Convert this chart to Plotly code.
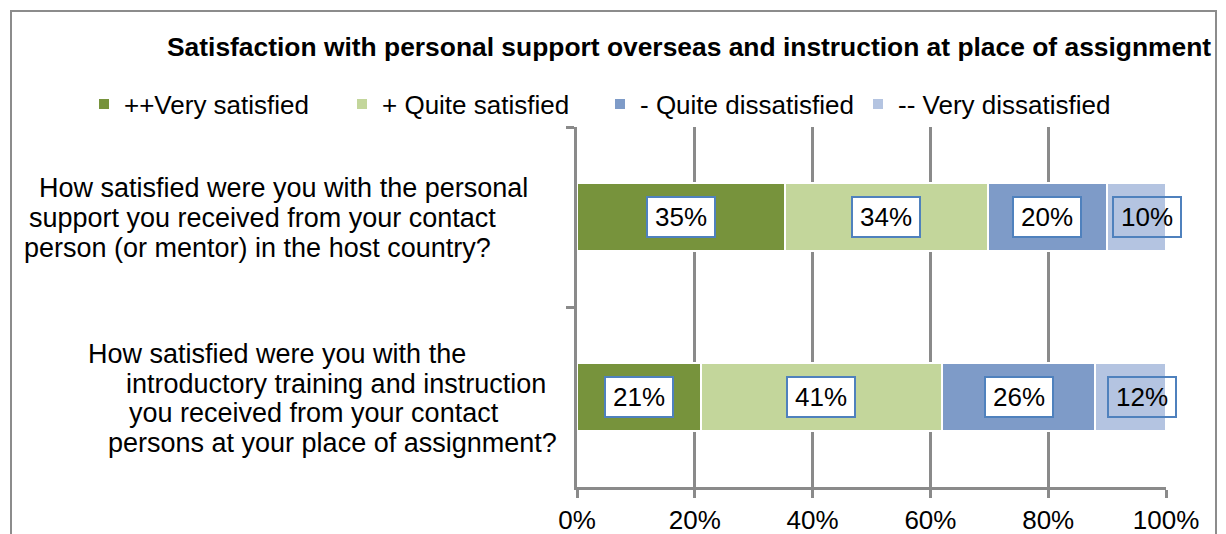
import plotly.graph_objects as go

# Survey responses (percent of respondents)
questions = ["personal support", "introductory training"]
series_names = ["++Very satisfied", "+ Quite satisfied", "- Quite dissatisfied", "-- Very dissatisfied"]
very_satisfied = [35, 21]
quite_satisfied = [34, 41]
quite_dissatisfied = [20, 26]
very_dissatisfied = [10, 12]
x_ticks = [0, 20, 40, 60, 80, 100]
x_tick_labels = ["0%", "20%", "40%", "60%", "80%", "100%"]

question_lines = [
    ["How satisfied were you with the personal",
     "support you received from your contact",
     "person (or mentor) in the host country?"],
    ["How satisfied were you with the",
     "introductory training and instruction",
     "you received from your contact",
     "persons at your place of assignment?"],
]

colors = ["#77933c", "#c3d69b", "#7e9bc8", "#b4c4e1"]
title_text = "Satisfaction with personal support overseas and instruction at place of assignment"

W, H = 1226, 534
L, R, T, B = 577, 60, 127, 47
PW, PH = W - L - R, H - T - B
FONT = "Liberation Sans, Arial, sans-serif"
GRID = "#8a8a8a"


def px_x(px):
    return (px - L) / PW


def px_y(py):
    return (H - B - py) / PH


series = [very_satisfied, quite_satisfied, quite_dissatisfied, very_dissatisfied]

fig = go.Figure()
for name, vals, col in zip(series_names, series, colors):
    fig.add_trace(go.Bar(
        y=questions, x=vals, name=name, orientation="h",
        marker=dict(color=col, line=dict(color="white", width=2)),
        hoverinfo="skip",
    ))

# Boxed value labels centred on each normalised segment
annotations = []
for qi, q in enumerate(questions):
    vals = [s[qi] for s in series]
    total = sum(vals)
    cum = 0.0
    for si, v in enumerate(vals):
        share = v / total * 100
        centre = cum + share / 2
        cum += share
        last = si == len(vals) - 1
        annotations.append(dict(
            x=centre, y=q, xref="x", yref="y", text=f"{v}%", showarrow=False,
            font=dict(family=FONT, size=26, color="black"),
            width=60, height=32,
            bgcolor="rgba(0,0,0,0)" if last else "white",
            bordercolor="#4f81bd", borderwidth=2, borderpad=3,
            xshift=11 if last else 0,
        ))

# Question texts, one line per annotation
line_pos = [
    [(37, 188), (27, 218), (22, 248)],
    [(86, 354), (124, 384), (127, 413), (106, 443)],
]
for lines, pos in zip(question_lines, line_pos):
    for txt, (lx, ly) in zip(lines, pos):
        annotations.append(dict(
            x=px_x(lx), y=px_y(ly), xref="paper", yref="paper", text=txt,
            showarrow=False, xanchor="left", yanchor="middle",
            font=dict(family=FONT, size=27, color="black"),
        ))

annotations.append(dict(
    x=px_x(689), y=px_y(47), xref="paper", yref="paper", text=f"<b>{title_text}</b>",
    showarrow=False, xanchor="center", yanchor="middle",
    font=dict(family=FONT, size=26.4, color="black"),
))

# Outer chart frame (open at the bottom)
frame = dict(type="path", xref="paper", yref="paper",
             path=f"M {px_x(11)},{px_y(560)} L {px_x(11)},{px_y(11)} "
                  f"L {px_x(1216)},{px_y(11)} L {px_x(1216)},{px_y(560)}",
             line=dict(color="#8c8c8c", width=2))

fig.update_layout(
    width=W, height=H,
    margin=dict(l=L, r=R, t=T, b=B, autoexpand=False),
    barmode="stack", barnorm="percent", bargap=0.62,
    plot_bgcolor="white", paper_bgcolor="white",
    font=dict(family=FONT, size=26, color="black"),
    showlegend=True,
    legend=dict(orientation="h", xref="paper", yref="paper",
                x=px_x(84), y=px_y(104), xanchor="left", yanchor="middle",
                font=dict(family=FONT, size=26), entrywidth=213,
                bgcolor="rgba(0,0,0,0)", traceorder="normal"),
    annotations=annotations,
    shapes=[frame],
    xaxis=dict(range=[0, 100], tickvals=x_ticks, ticktext=x_tick_labels,
               showgrid=True, gridcolor=GRID, gridwidth=3, zeroline=False,
               showline=True, linecolor=GRID, linewidth=3,
               ticks="outside", ticklen=8, tickwidth=3, tickcolor=GRID,
               tickfont=dict(family=FONT, size=26), fixedrange=True),
    yaxis=dict(autorange="reversed", showticklabels=False, showgrid=False,
               showline=True, linecolor=GRID, linewidth=3,
               ticks="outside", tickson="boundaries", ticklen=8, tickwidth=3,
               tickcolor=GRID, fixedrange=True),
)

fig.write_html("out.html")
